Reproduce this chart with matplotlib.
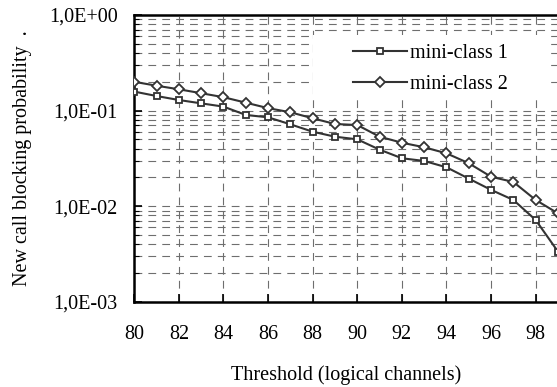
import matplotlib
matplotlib.use("Agg")
import matplotlib.pyplot as plt
from matplotlib.patches import Rectangle
from matplotlib.ticker import LogLocator, FixedLocator, NullFormatter

plt.rcParams["font.family"] = ["Liberation Serif", "DejaVu Serif"]

# Threshold values and blocking probabilities
threshold = [80, 81, 82, 83, 84, 85, 86, 87, 88, 89,
             90, 91, 92, 93, 94, 95, 96, 97, 98, 99]
mini_class_1 = [0.158, 0.142, 0.129, 0.119, 0.110, 0.090, 0.085, 0.0718, 0.0601, 0.0533,
                0.0500, 0.0390, 0.0317, 0.0297, 0.0255, 0.0194, 0.0148, 0.0116, 0.00716, 0.00334]
mini_class_2 = [0.200, 0.182, 0.167, 0.152, 0.138, 0.121, 0.106, 0.096, 0.083, 0.0724,
                0.0706, 0.0533, 0.0461, 0.0413, 0.0357, 0.0281, 0.0203, 0.0179, 0.0116, 0.0084]
x_ticks = [80, 82, 84, 86, 88, 90, 92, 94, 96, 98]
y_ticks = [1e-3, 1e-2, 1e-1, 1e0]
y_tick_labels = ["1,0E-03", "1,0E-02", "1,0E-01", "1,0E+00"]

fig = plt.figure(figsize=(5.57, 3.87), dpi=100)
ax = fig.add_axes([0.2411, 0.2204, 0.7607, 0.7408])

line_color = "#333333"
ax.plot(threshold, mini_class_1, "-s", color=line_color, lw=1.5, ms=4.5,
        mfc="white", mec=line_color, mew=1.3, label="mini-class 1", zorder=3)
ax.plot(threshold, mini_class_2, "-D", color=line_color, lw=1.5, ms=4.8,
        mfc="white", mec=line_color, mew=1.3, label="mini-class 2", zorder=3)

ax.set_yscale("log")
ax.set_xlim(80, 99)
ax.set_ylim(1e-3, 1)

ax.set_xticks(x_ticks)
ax.set_xticklabels([str(t) for t in x_ticks])
ax.set_yticks(y_ticks)
ax.set_yticklabels(y_tick_labels)
ax.yaxis.set_minor_locator(LogLocator(base=10, subs=range(2, 10)))
ax.yaxis.set_minor_formatter(NullFormatter())
ax.xaxis.set_minor_locator(FixedLocator([]))

# Dashed grid
ax.set_axisbelow(True)
grid_style = dict(color="#6e6e6e", lw=0.8, linestyle=(0, (7, 5.5)))
ax.grid(True, which="major", axis="x", **grid_style)
ax.grid(True, which="both", axis="y", **grid_style)

for side in ["left", "bottom", "top", "right"]:
    ax.spines[side].set_linewidth(1.8)
    ax.spines[side].set_color("black")

ax.tick_params(axis="both", which="major", direction="in", length=6, width=1.2,
               labelsize=14.5, colors="black")
ax.tick_params(axis="y", which="major", pad=12)
ax.tick_params(axis="x", which="major", pad=16.5)
ax.tick_params(axis="y", which="minor", direction="in", length=3.5, width=0.8)
ax.tick_params(top=False, right=False)

# White box behind the legend
ax.add_patch(Rectangle((0.4218, 0.7175), 0.5546, 0.2125, transform=ax.transAxes,
                       facecolor="white", edgecolor="none", zorder=0.8))
ax.legend(loc="upper left", bbox_to_anchor=(0.516, 0.90), frameon=False,
          fontsize=14.5, handlelength=2.7, handletextpad=0.15, borderpad=0,
          borderaxespad=0, labelspacing=0.6)

ax.set_xlabel("Threshold (logical channels)", fontsize=14.5, labelpad=15.5)
ax.set_ylabel("New call blocking probability  .", fontsize=14.5, labelpad=12)

fig.savefig("out.png", dpi=100)
